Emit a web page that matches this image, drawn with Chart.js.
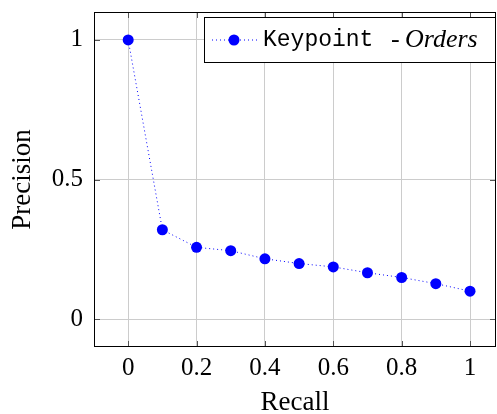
<!DOCTYPE html>
<html>
<head>
<meta charset="utf-8">
<script src="https://cdn.jsdelivr.net/npm/chart.js@4"></script>
<style>
  html, body { margin: 0; padding: 0; background: #fff; }
  #wrap { width: 497px; height: 414px; }
</style>
</head>
<body>
<div id="wrap"><canvas id="pr-chart" width="497" height="414"></canvas></div>
<script>
// recall / precision values
var recall = [0, 0.1, 0.2, 0.3, 0.4, 0.5, 0.6, 0.7, 0.8, 0.9, 1];
var precision = [1, 0.32, 0.257, 0.245, 0.216, 0.199, 0.187, 0.166, 0.149, 0.127, 0.1];
var xTicks = [0, 0.2, 0.4, 0.6, 0.8, 1];
var yTicks = [0, 0.5, 1];

var serif = "'Liberation Serif', 'DejaVu Serif', serif";

// box around plot + inward tick marks + legend with mixed fonts
var pgfStyle = {
  id: 'pgfStyle',
  afterDraw: function(chart) {
    var ctx = chart.ctx, a = chart.chartArea;
    var xs = chart.scales.x, ys = chart.scales.y;
    ctx.save();
    ctx.strokeStyle = '#555';
    ctx.lineWidth = 1;
    ctx.beginPath();
    xTicks.forEach(function(t) {
      var px = Math.round(xs.getPixelForValue(t)) + 0.5;
      ctx.moveTo(px, a.bottom); ctx.lineTo(px, a.bottom - 6);
      ctx.moveTo(px, a.top); ctx.lineTo(px, a.top + 6);
    });
    yTicks.forEach(function(t) {
      var py = Math.round(ys.getPixelForValue(t)) + 0.5;
      ctx.moveTo(a.left, py); ctx.lineTo(a.left + 6, py);
      ctx.moveTo(a.right, py); ctx.lineTo(a.right - 6, py);
    });
    ctx.stroke();
    ctx.strokeStyle = '#000';
    ctx.strokeRect(a.left + 0.5, a.top + 0.5, a.right - a.left - 1, a.bottom - a.top - 1);

    // legend
    var lx = 204, ly = 17, lw = 291, lh = 45;
    ctx.fillStyle = '#fff';
    ctx.fillRect(lx, ly, lw, lh);
    ctx.strokeStyle = '#000';
    ctx.strokeRect(lx + 0.5, ly + 0.5, lw, lh);
    var cy = ly + lh / 2 + 0.5;
    ctx.strokeStyle = '#0000ff';
    ctx.setLineDash([1, 3]);
    ctx.beginPath();
    ctx.moveTo(212, cy); ctx.lineTo(258, cy);
    ctx.stroke();
    ctx.setLineDash([]);
    ctx.fillStyle = '#0000ff';
    ctx.beginPath();
    ctx.arc(234, cy, 5.5, 0, Math.PI * 2);
    ctx.fill();
    ctx.fillStyle = '#000';
    ctx.textBaseline = 'middle';
    ctx.font = "23px 'Liberation Mono', 'DejaVu Sans Mono', monospace";
    ctx.fillText('Keypoint', 263, cy);
    ctx.font = '26px ' + serif;
    ctx.fillText('-', 391, cy);
    ctx.font = 'italic 26px ' + serif;
    ctx.fillText('Orders', 405, cy);
    ctx.restore();
  }
};

new Chart(document.getElementById('pr-chart'), {
  type: 'scatter',
  data: {
    datasets: [{
      label: 'Keypoint - Orders',
      data: recall.map(function(r, i) { return { x: r, y: precision[i] }; }),
      showLine: true,
      borderColor: '#0000ff',
      borderWidth: 1,
      borderDash: [1, 3],
      backgroundColor: '#0000ff',
      pointRadius: 5.5,
      pointBorderWidth: 0
    }]
  },
  plugins: [pgfStyle],
  options: {
    responsive: false,
    animation: false,
    layout: { autoPadding: false, padding: { left: 0, right: 1, top: 12, bottom: 0 } },
    plugins: { legend: { display: false }, tooltip: { enabled: false } },
    scales: {
      x: {
        type: 'linear',
        min: -0.1, max: 1.076,
        afterBuildTicks: function(s) { s.ticks = xTicks.map(function(v) { return { value: v }; }); },
        afterFit: function(s) { s.height = 67; s.paddingLeft = 0; s.paddingRight = 0; },
        grid: { color: '#cccccc', drawTicks: false },
        border: { display: false },
        ticks: {
          padding: 6,
          color: '#000',
          font: { family: serif, size: 25 },
          callback: function(v) { return String(+v.toFixed(1)); }
        },
        title: { display: true, text: 'Recall', color: '#000', font: { family: serif, size: 27 }, padding: { top: 0, bottom: -5 } }
      },
      y: {
        min: -0.1, max: 1.1,
        afterBuildTicks: function(s) { s.ticks = yTicks.map(function(v) { return { value: v }; }); },
        afterFit: function(s) { s.width = 94; s.paddingTop = 0; s.paddingBottom = 0; },
        grid: { color: '#cccccc', drawTicks: false },
        border: { display: false },
        ticks: {
          padding: 11,
          color: '#000',
          font: { family: serif, size: 25 },
          callback: function(v) { return String(+v.toFixed(1)); }
        },
        title: { display: true, text: 'Precision', color: '#000', font: { family: serif, size: 27 }, padding: { top: 7, bottom: 0 } }
      }
    }
  }
});
</script>
</body>
</html>
